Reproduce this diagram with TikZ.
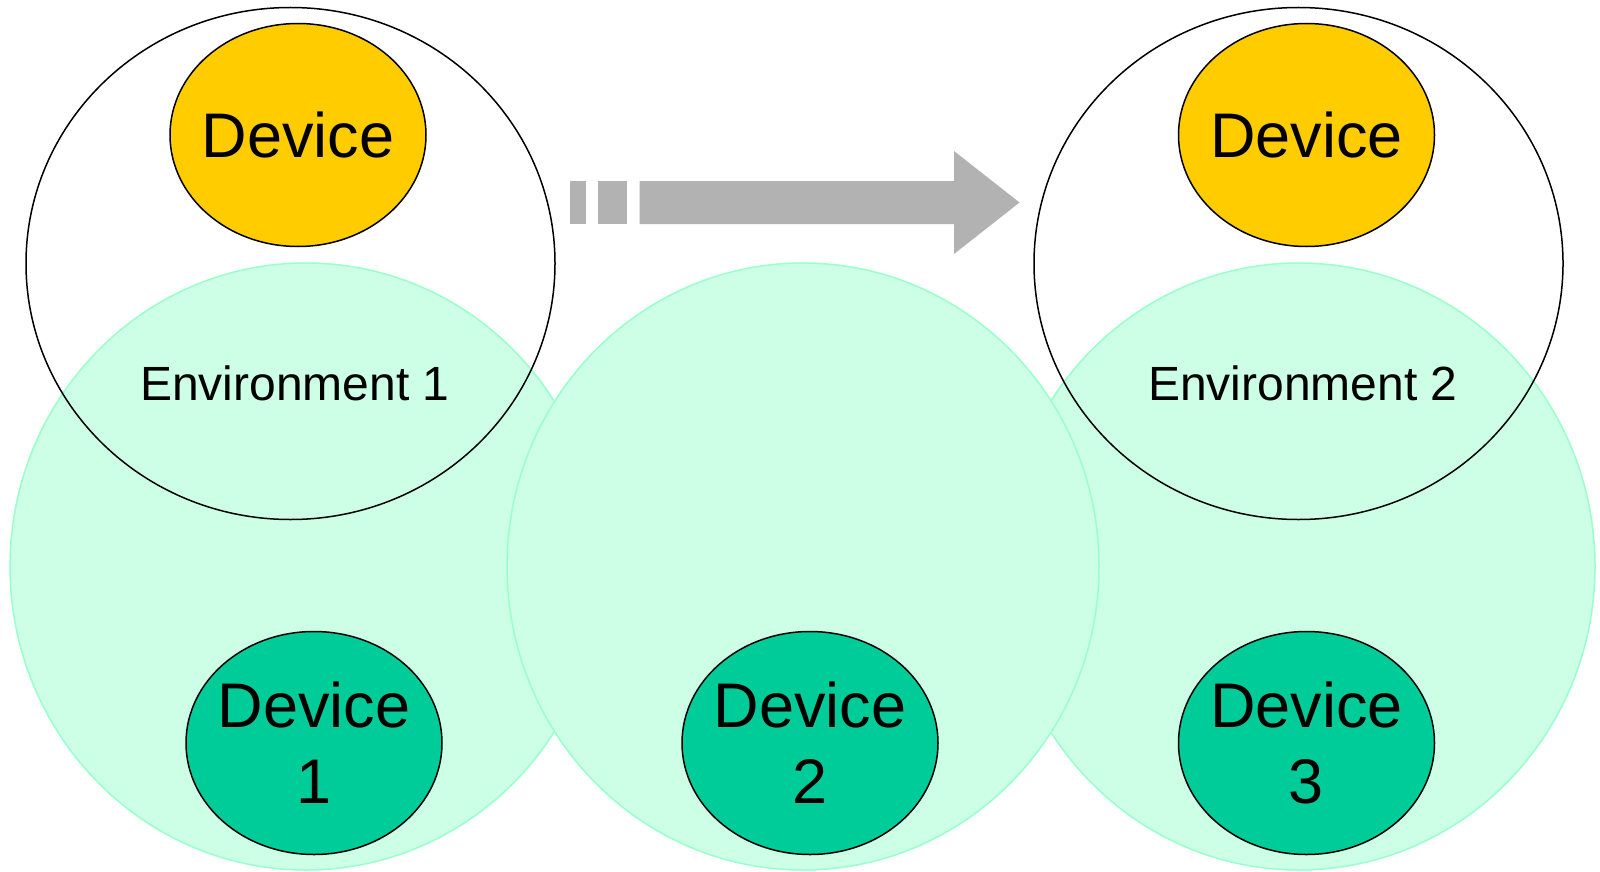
\documentclass[tikz,border=0pt]{standalone}
\usepackage{fontspec}
\setmainfont{Liberation Sans}
\usetikzlibrary{shapes.geometric}
\definecolor{zonefill}{HTML}{CCFFE6}
\definecolor{zoneline}{HTML}{99FFCC}
\definecolor{devyellow}{HTML}{FFCC00}
\definecolor{devgreen}{HTML}{00CC99}
\definecolor{arrowgrey}{HTML}{B2B2B2}
\begin{document}
\begin{tikzpicture}[x=1pt,y=-1pt,
  zone/.style={ellipse, draw=zoneline, fill=zonefill, line width=1.5pt,
    minimum width=592pt, minimum height=607pt, inner sep=0pt},
  envcircle/.style={ellipse, draw=black, line width=1.5pt,
    minimum width=529pt, minimum height=512pt, inner sep=0pt},
  device/.style={ellipse, draw=black, line width=1.5pt,
    minimum width=256pt, minimum height=223pt, inner sep=0pt},
  devtext/.style={align=center, inner sep=0pt,
    font=\fontsize{63}{75.7}\selectfont},
  envlabel/.style={font=\fontsize{48}{57}\selectfont, inner sep=0pt},
  arrowpart/.style={fill=arrowgrey}
]
\fill[white] (0,0) rectangle (1600,872);
\useasboundingbox (0,0) rectangle (1600,872);

% zones
\node[zone] (zone1) at (306,566.5) {};
\node[zone] (zone3) at (1299,566.5) {};
\node[zone] (zone2) at (803,566.5) {};

% environments
\node[envcircle] (env1) at (290.5,263.5) {};
\node[envcircle] (env2) at (1298.5,263.5) {};
\node[envlabel] (envlabel1) at (295,383) {Environment 1};
\node[envlabel] (envlabel2) at (1303,383) {Environment 2};

% devices
\node[device, fill=devyellow] (devA) at (298,135) {};
\node[device, fill=devyellow] (devB) at (1306.5,135) {};
\node[device, fill=devgreen] (dev1) at (314,743) {};
\node[device, fill=devgreen] (dev2) at (810,743) {};
\node[device, fill=devgreen] (dev3) at (1306.5,743) {};
\node[devtext] (devAtext) at (devA) {Device};
\node[devtext] (devBtext) at (devB) {Device};
\node[devtext] (dev1text) at (dev1) {Device\\1};
\node[devtext] (dev2text) at (dev2) {Device\\2};
\node[devtext] (dev3text) at (dev3) {Device\\3};

% block arrow
\fill[arrowpart] (569.5,181) rectangle (585.5,224);
\fill[arrowpart] (597.5,181) rectangle (627,224);
\fill[arrowpart] (639.5,181) -- (954,181) -- (954,151) -- (1019.5,202.5)
  -- (954,254) -- (954,224) -- (639.5,224) -- cycle;
\end{tikzpicture}
\end{document}
